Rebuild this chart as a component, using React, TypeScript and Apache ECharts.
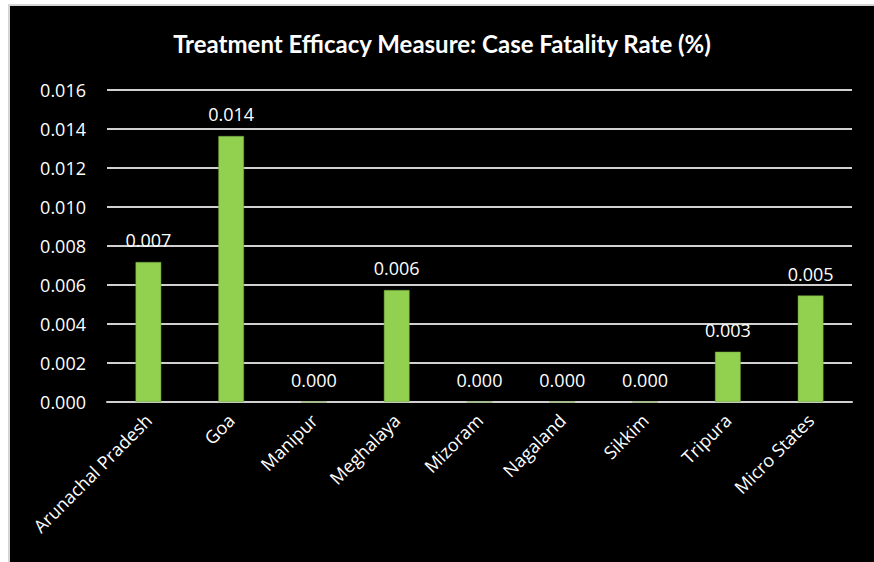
import React, { useEffect, useRef } from "react";
import * as echarts from "echarts";

const categories = [
  "Arunachal Pradesh",
  "Goa",
  "Manipur",
  "Meghalaya",
  "Mizoram",
  "Nagaland",
  "Sikkim",
  "Tripura",
  "Micro States",
];
const fatalityRate = [0.00718, 0.01364, 0, 0.00574, 0, 0, 0, 0.00258, 0.00546];
const titleText = "Treatment Efficacy Measure: Case Fatality Rate (%)";

export default function App() {
  const ref = useRef<HTMLDivElement>(null);
  useEffect(() => {
    if (!ref.current) return;
    const chart = echarts.init(ref.current, undefined, { renderer: "svg" });
    chart.setOption({
      animation: false,
      backgroundColor: "#000000",
      title: {
        text: titleText,
        left: "center",
        top: 20,
        textStyle: {
          color: "#ffffff",
          fontFamily: "Lato",
          fontWeight: "bold",
          fontSize: 24,
        },
      },
      grid: { left: 97, right: 22, top: 84, bottom: 160 },
      xAxis: {
        type: "category",
        data: categories,
        axisLine: { show: true, lineStyle: { color: "#d0d0d0", width: 2 } },
        axisTick: { show: false },
        axisLabel: {
          rotate: 45,
          interval: 0,
          margin: 15,
          color: "#ffffff",
          fontFamily: "Open Sans",
          fontSize: 18,
        },
      },
      yAxis: {
        type: "value",
        min: 0,
        max: 0.016,
        interval: 0.002,
        axisLine: { show: false },
        axisTick: { show: false },
        splitLine: { lineStyle: { color: "#d0d0d0", width: 2 } },
        axisLabel: {
          margin: 21,
          color: "#ffffff",
          fontFamily: "Open Sans",
          fontSize: 18,
          formatter: (v: number) => v.toFixed(3),
        },
      },
      series: [
        {
          type: "bar",
          data: fatalityRate,
          barWidth: "31%",
          itemStyle: { color: "#92d050", borderColor: "#6f9e3c", borderWidth: 0.5 },
          label: {
            show: true,
            position: "top",
            distance: 13,
            color: "#ffffff",
            fontFamily: "Open Sans",
            fontSize: 18,
            formatter: (p: any) => Number(p.value).toFixed(3),
          },
        },
      ],
    });
    return () => chart.dispose();
  }, []);
  return (
    <div style={{ position: "fixed", left: 0, top: 0, width: 874, height: 562, background: "#ffffff" }}>
      <div style={{ position: "absolute", left: 8, top: 4, width: 866, height: 558, background: "#d4d4d4" }} />
      <div ref={ref} style={{ position: "absolute", left: 10, top: 6, width: 864, height: 556 }} />
    </div>
  );
}
